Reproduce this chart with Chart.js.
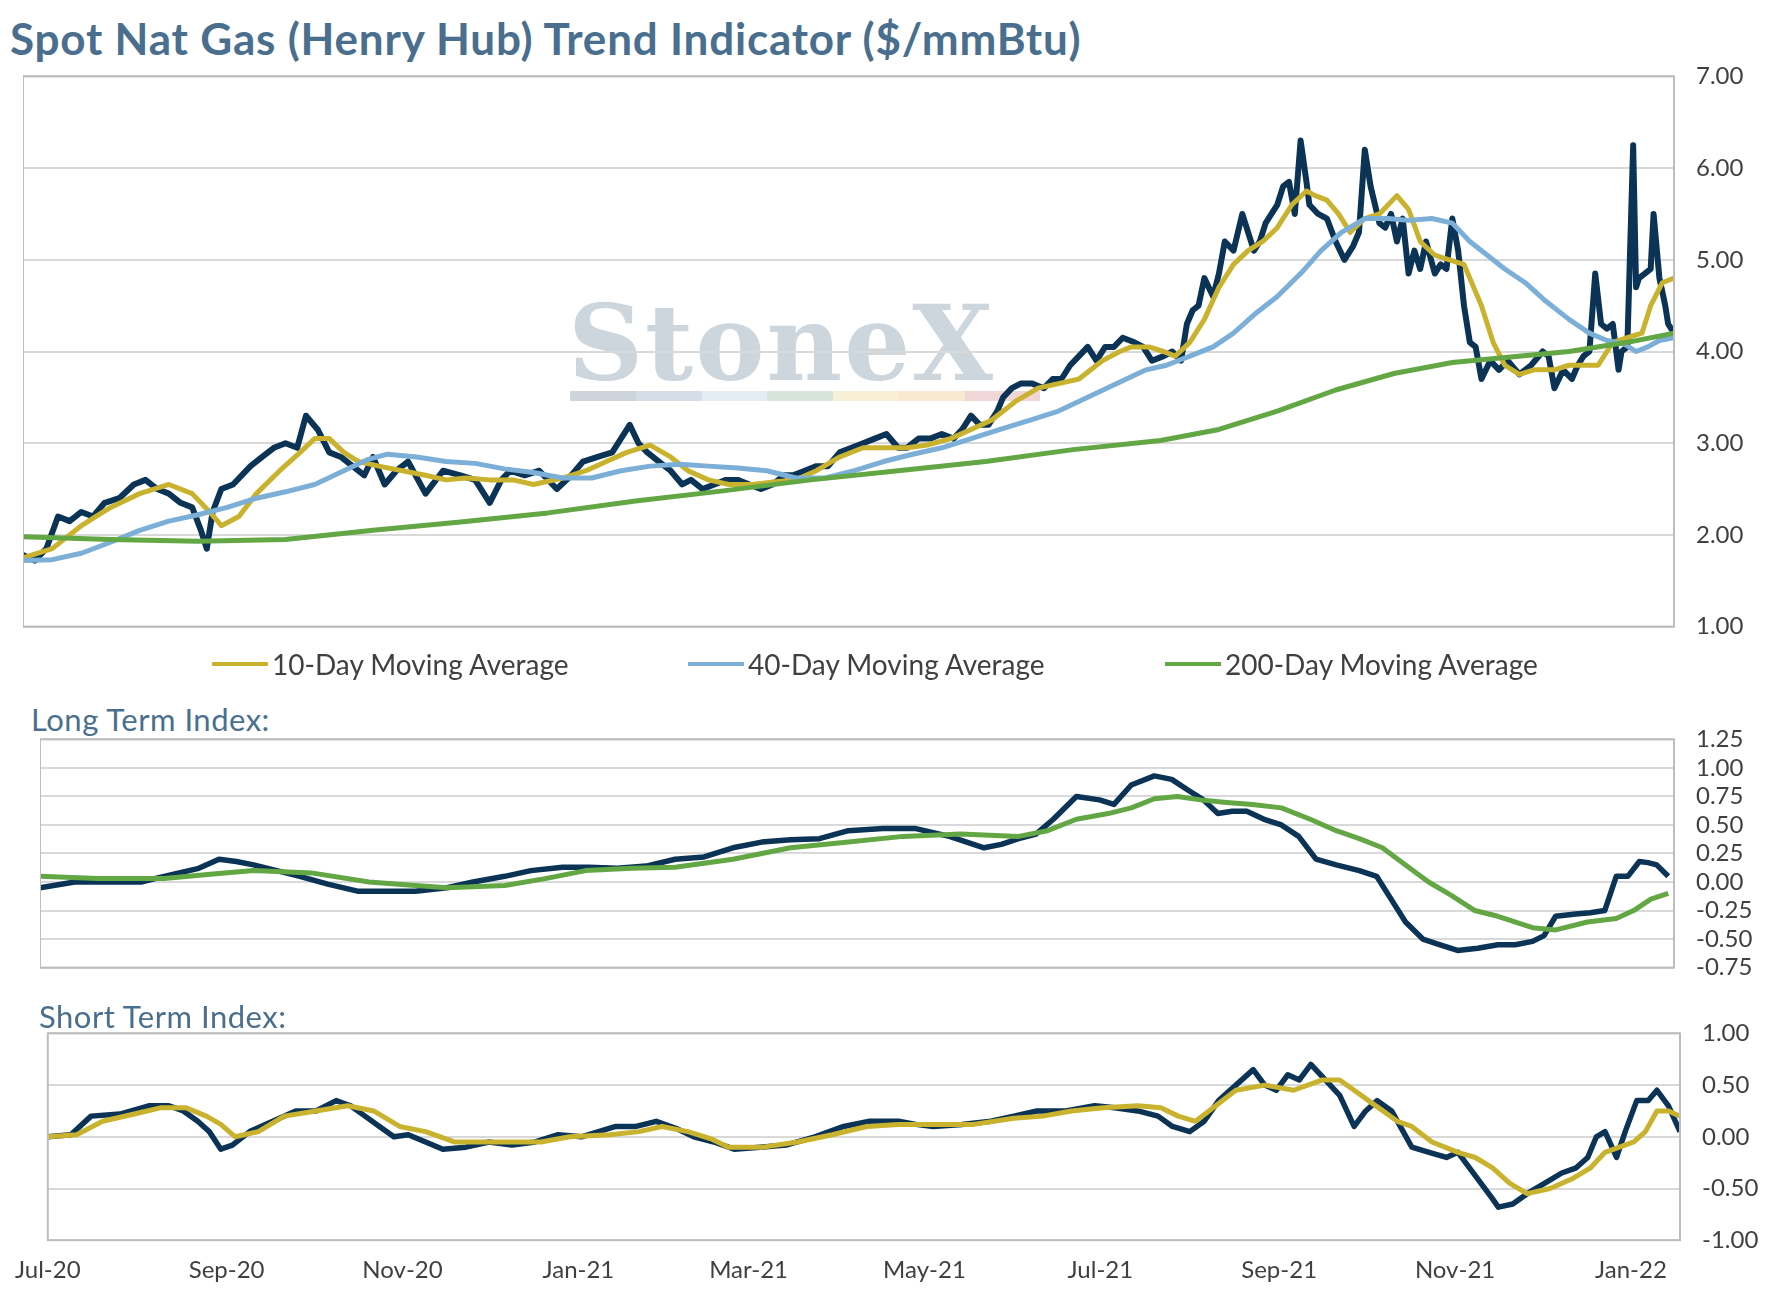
<!DOCTYPE html>
<html>
<head>
<meta charset="utf-8">
<script src="https://cdn.jsdelivr.net/npm/chart.js@4"></script>
<style>
  body { margin: 0; width: 1777px; height: 1295px; background: #fff; position: relative; overflow: hidden; font-family: Lato, "Open Sans", sans-serif; }
  .box { position: absolute; }
  .title { position: absolute; left: 10px; top: 12px; font-size: 44px; font-weight: bold; color: #4a6f8e; letter-spacing: 0.8px; }
  .sub { position: absolute; font-size: 31px; color: #4a6f8e; letter-spacing: 0.5px; }
  .legend { position: absolute; top: 647px; font-size: 28px; color: #404040; display: flex; align-items: center; }
  .legend span.sw { display: inline-block; width: 56px; height: 4px; margin-right: 4px; }
  .wm { position: absolute; left: 568px; top: 282px; font-family: "DejaVu Serif", serif; font-size: 104px; font-weight: bold; color: #cdd5dd; letter-spacing: 2px; }
  .wmbar { position: absolute; left: 570px; top: 391px; width: 470px; height: 10px;
    background: linear-gradient(90deg, #cdd4dc 0 14%, #d5dde6 14% 28%, #e3ecf3 28% 42%, #d6e4da 42% 56%, #f7f0d6 56% 70%, #f9e9d0 70% 84%, #f0d6d6 84% 100%); }
</style>
</head>
<body>
<div class="title">Spot Nat Gas (Henry Hub) Trend Indicator ($/mmBtu)</div>
<div class="wm">StoneX</div>
<div class="wmbar"></div>
<div class="box" style="left:23px;top:40px;width:1748px;height:623px"><canvas id="top"></canvas></div>
<div class="legend" style="left:212px"><span class="sw" style="background:#c9b22e"></span>10-Day Moving Average</div>
<div class="legend" style="left:688px"><span class="sw" style="background:#7bafd8"></span>40-Day Moving Average</div>
<div class="legend" style="left:1165px"><span class="sw" style="background:#62a744"></span>200-Day Moving Average</div>
<div class="sub" style="left:31px;top:700px">Long Term Index:</div>
<div class="box" style="left:40px;top:703px;width:1737px;height:301px"><canvas id="lt"></canvas></div>
<div class="sub" style="left:39px;top:997px">Short Term Index:</div>
<div class="box" style="left:7px;top:997px;width:1770px;height:296px"><canvas id="st"></canvas></div>
<script>
// days counted from 1 Jul 2020
const monthDays = [0, 62, 123, 184, 243, 304, 365, 427, 488, 549];
const monthLabels = ['Jul-20', 'Sep-20', 'Nov-20', 'Jan-21', 'Mar-21', 'May-21', 'Jul-21', 'Sep-21', 'Nov-21', 'Jan-22'];
const X_MAX = 566;

// spot price
const spotDays = [0,4,8,12,16,20,24,28,33,38,42,46,50,54,58,61,63,65,68,72,78,82,86,90,94,97,101,105,109,113,117,120,124,128,132,138,144,150,155,160,164,167,172,177,183,188,192,197,202,205,208,211,214,218,222,226,229,233,237,241,245,249,253,257,261,264,268,272,276,280,284,288,292,296,300,303,307,311,315,319,322,325,328,331,334,336,339,342,346,350,353,356,359,362,365,368,371,374,377,381,384,387,391,394,397,399,401,403,405,408,410,412,415,418,420,422,424,426,428,430,432,434,436,438,440,441,444,447,450,453,456,458,460,462,465,467,469,471,473,475,477,479,481,484,486,488,490,492,494,496,498,500,503,506,509,513,517,521,523,525,528,531,533,535,537,539,541,543,545,547,548,550,552,553,554,556,558,559,561,563,564,566];
const spotVals = [1.78,1.72,1.85,2.2,2.15,2.25,2.2,2.35,2.4,2.55,2.6,2.5,2.45,2.35,2.3,2.05,1.85,2.25,2.5,2.55,2.75,2.85,2.95,3.0,2.95,3.3,3.15,2.9,2.85,2.75,2.65,2.85,2.55,2.7,2.8,2.45,2.7,2.65,2.6,2.35,2.6,2.7,2.65,2.7,2.5,2.65,2.8,2.85,2.9,3.05,3.2,3.0,2.9,2.8,2.7,2.55,2.6,2.5,2.55,2.6,2.6,2.55,2.5,2.55,2.65,2.65,2.7,2.75,2.75,2.9,2.95,3.0,3.05,3.1,2.95,2.95,3.05,3.05,3.1,3.05,3.15,3.3,3.2,3.2,3.35,3.5,3.6,3.65,3.65,3.6,3.7,3.7,3.85,3.95,4.05,3.9,4.05,4.05,4.15,4.1,4.05,3.9,3.95,4.0,3.9,4.3,4.45,4.5,4.8,4.6,4.85,5.2,5.1,5.5,5.3,5.1,5.2,5.4,5.5,5.6,5.8,5.85,5.5,6.3,5.85,5.6,5.5,5.45,5.2,5.0,5.15,5.3,6.2,5.8,5.4,5.35,5.5,5.2,5.45,4.85,5.1,4.9,5.2,4.85,4.95,4.9,5.45,5.1,4.5,4.1,4.05,3.7,3.9,3.8,3.9,3.75,3.85,4.0,3.95,3.6,3.8,3.7,3.85,3.95,4.0,4.85,4.3,4.25,4.3,3.8,4.0,4.05,6.25,4.7,4.8,4.85,4.9,5.5,4.8,4.5,4.3,4.2,4.0];

// moving averages
const ma10Days = [0,10,20,30,40,50,58,64,68,74,80,88,95,100,105,110,115,122,130,138,145,152,160,168,175,185,193,200,207,215,222,228,235,242,250,258,265,272,280,288,295,303,310,318,325,332,340,348,355,362,370,376,380,386,391,395,400,405,410,415,420,425,430,435,440,443,447,451,455,460,465,471,475,479,484,489,494,500,504,508,513,518,525,530,535,540,545,550,555,558,562,566];
const ma10Vals = [1.75,1.85,2.1,2.3,2.45,2.55,2.45,2.25,2.1,2.2,2.45,2.7,2.9,3.05,3.05,2.9,2.8,2.75,2.7,2.65,2.6,2.62,2.6,2.6,2.55,2.62,2.7,2.8,2.9,2.98,2.85,2.7,2.6,2.55,2.55,2.58,2.6,2.7,2.85,2.95,2.95,2.95,2.98,3.05,3.15,3.25,3.45,3.6,3.65,3.7,3.9,4.0,4.05,4.05,4.0,3.95,4.1,4.35,4.7,4.95,5.1,5.2,5.35,5.6,5.75,5.7,5.65,5.5,5.3,5.45,5.5,5.7,5.55,5.2,5.05,5.0,4.95,4.5,4.1,3.85,3.75,3.8,3.8,3.85,3.85,3.85,4.1,4.15,4.2,4.5,4.75,4.8];
const ma40Days = [0,10,20,30,40,50,60,70,80,90,100,110,118,125,135,145,155,165,175,185,195,205,215,225,235,245,255,265,275,285,295,305,315,325,335,345,355,365,375,385,392,400,408,415,422,430,438,445,452,460,468,475,483,490,496,502,508,515,522,530,537,543,549,553,557,561,566];
const ma40Vals = [1.72,1.73,1.8,1.92,2.05,2.15,2.22,2.3,2.4,2.47,2.55,2.7,2.82,2.88,2.85,2.8,2.78,2.72,2.68,2.62,2.62,2.7,2.75,2.77,2.75,2.73,2.7,2.62,2.62,2.7,2.8,2.88,2.95,3.05,3.15,3.25,3.35,3.5,3.65,3.8,3.85,3.95,4.05,4.2,4.4,4.6,4.85,5.1,5.3,5.45,5.45,5.43,5.45,5.4,5.2,5.05,4.9,4.75,4.55,4.35,4.2,4.12,4.08,4.0,4.05,4.12,4.15];
const ma200Days = [0,30,60,90,120,150,180,210,240,270,300,330,360,390,410,430,450,470,490,510,530,550,566];
const ma200Vals = [1.98,1.95,1.93,1.95,2.05,2.14,2.24,2.37,2.48,2.6,2.7,2.8,2.93,3.03,3.15,3.35,3.58,3.76,3.88,3.94,4.0,4.1,4.2];

// long term index
const ltDarkDays = [0,12,23,35,43,55,62,68,74,82,90,100,110,120,130,141,150,161,170,181,190,200,210,220,230,240,250,260,270,280,292,303,315,327,333,339,345,351,359,367,372,378,386,392,398,403,408,413,418,424,430,436,442,449,457,463,468,473,479,485,491,498,505,511,517,521,525,532,537,542,546,550,554,557,560,564];
const ltDarkVals = [-0.05,0.0,0.0,0.0,0.05,0.12,0.2,0.18,0.15,0.1,0.05,-0.02,-0.08,-0.08,-0.08,-0.05,0.0,0.05,0.1,0.13,0.13,0.12,0.14,0.2,0.22,0.3,0.35,0.37,0.38,0.45,0.47,0.47,0.4,0.3,0.33,0.38,0.42,0.55,0.75,0.72,0.68,0.85,0.93,0.9,0.8,0.72,0.6,0.62,0.62,0.55,0.5,0.4,0.2,0.15,0.1,0.05,-0.15,-0.35,-0.5,-0.55,-0.6,-0.58,-0.55,-0.55,-0.52,-0.47,-0.3,-0.28,-0.27,-0.25,0.05,0.05,0.18,0.17,0.15,0.05];
const ltGreenDays = [0,20,43,60,74,94,114,130,141,161,175,189,205,220,240,260,280,299,319,339,349,359,370,378,386,394,402,410,420,430,440,449,457,465,473,481,489,497,505,517,525,536,546,552,558,564];
const ltGreenVals = [0.05,0.03,0.03,0.07,0.1,0.08,0.0,-0.03,-0.05,-0.03,0.03,0.1,0.12,0.13,0.2,0.3,0.35,0.4,0.42,0.4,0.45,0.55,0.6,0.65,0.73,0.75,0.72,0.7,0.68,0.65,0.55,0.45,0.38,0.3,0.15,0.0,-0.12,-0.25,-0.3,-0.4,-0.42,-0.35,-0.32,-0.25,-0.15,-0.1];

// short term index
const stDarkDays = [0,8,15,25,35,42,47,52,56,60,64,70,78,86,93,100,105,110,115,120,125,131,137,145,153,161,169,177,185,191,197,204,211,218,224,231,238,247,256,266,276,285,295,301,307,317,327,335,343,353,363,370,378,385,390,396,401,406,412,418,422,426,430,434,438,443,448,453,457,461,466,473,479,485,489,493,497,501,503,508,513,519,525,530,534,537,540,544,547,551,555,558,562,566];
const stDarkVals = [0.0,0.02,0.2,0.22,0.3,0.3,0.25,0.15,0.05,-0.12,-0.08,0.05,0.15,0.25,0.25,0.35,0.3,0.2,0.1,0.0,0.02,-0.05,-0.12,-0.1,-0.05,-0.08,-0.05,0.02,0.0,0.05,0.1,0.1,0.15,0.08,0.0,-0.05,-0.12,-0.1,-0.08,0.0,0.1,0.15,0.15,0.12,0.1,0.12,0.15,0.2,0.25,0.25,0.3,0.28,0.25,0.2,0.1,0.05,0.15,0.35,0.5,0.65,0.5,0.45,0.6,0.55,0.7,0.55,0.4,0.1,0.25,0.35,0.25,-0.1,-0.15,-0.2,-0.15,-0.3,-0.45,-0.6,-0.68,-0.65,-0.55,-0.45,-0.35,-0.3,-0.2,0.0,0.05,-0.2,0.05,0.35,0.35,0.45,0.3,0.05];
const stYellowDays = [0,10,19,30,39,48,55,60,65,73,82,93,104,113,122,131,141,151,161,171,181,195,205,213,222,230,236,248,260,272,284,295,307,321,335,345,355,366,378,386,392,398,405,412,422,432,442,448,453,458,463,468,473,480,489,495,501,507,513,521,529,535,540,545,550,554,558,562,566];
const stYellowVals = [0.0,0.02,0.15,0.22,0.28,0.28,0.2,0.12,0.0,0.05,0.2,0.25,0.3,0.25,0.1,0.05,-0.05,-0.05,-0.05,-0.05,0.0,0.02,0.05,0.1,0.05,-0.02,-0.1,-0.1,-0.05,0.02,0.1,0.12,0.12,0.12,0.18,0.2,0.25,0.28,0.3,0.28,0.2,0.15,0.3,0.45,0.5,0.45,0.55,0.55,0.45,0.35,0.25,0.15,0.1,-0.05,-0.15,-0.2,-0.3,-0.45,-0.55,-0.5,-0.4,-0.3,-0.15,-0.1,-0.05,0.05,0.25,0.25,0.2];

const pts = (d, v) => d.map((x, i) => ({ x: x, y: v[i] }));

const frame = {
  id: 'frame',
  afterDraw(chart) {
    const a = chart.chartArea, c = chart.ctx;
    c.save();
    c.strokeStyle = '#bdbdbd';
    c.lineWidth = 2;
    c.strokeRect(a.left, a.top, a.right - a.left, a.bottom - a.top);
    c.restore();
  }
};

function line(data, color, width) {
  return { data: data, borderColor: color, borderWidth: width, pointRadius: 0, tension: 0, fill: false, borderJoinStyle: 'round' };
}

function makeChart(id, datasets, yMin, yMax, yStep, yWidth, showX, padTop) {
  return new Chart(document.getElementById(id), {
    type: 'line',
    data: { datasets: datasets },
    plugins: [frame],
    options: {
      responsive: true, maintainAspectRatio: false, animation: false,
      layout: { padding: { top: padTop, bottom: showX ? 0 : 12, left: 0, right: 0 } },
      plugins: { legend: { display: false }, tooltip: { enabled: false } },
      scales: {
        x: {
          type: 'linear', min: 0, max: X_MAX, display: showX,
          afterBuildTicks: ax => { ax.ticks = monthDays.map(v => ({ value: v })); },
          grid: { display: false },
          border: { display: false },
          ticks: { autoSkip: false, maxRotation: 0, color: '#404040', font: { size: 24, family: 'Lato' }, padding: 8,
                   callback: v => monthLabels[monthDays.indexOf(v)] }
        },
        y: {
          position: 'right', min: yMin, max: yMax,
          afterFit: ax => { ax.width = yWidth; },
          grid: { color: '#d9d9d9', lineWidth: 2, drawTicks: false },
          border: { display: false },
          ticks: { stepSize: yStep, color: '#404040', font: { size: 24, family: 'Lato' }, padding: 22,
                   callback: v => v.toFixed(2) }
        }
      }
    }
  });
}

makeChart('top', [
  line(pts(ma200Days, ma200Vals), '#62a744', 5),
  line(pts(ma40Days, ma40Vals), '#7bafd8', 5),
  line(pts(ma10Days, ma10Vals), '#c9b22e', 5),
  line(pts(spotDays, spotVals), '#0b3356', 6)
], 1, 7, 1, 97, false, 10);

makeChart('lt', [
  line(pts(ltGreenDays, ltGreenVals), '#62a744', 5),
  line(pts(ltDarkDays, ltDarkVals), '#0b3356', 5.5)
], -0.75, 1.25, 0.25, 103, false, 12);

makeChart('st', [
  line(pts(stYellowDays, stYellowVals), '#c9b22e', 5),
  line(pts(stDarkDays, stDarkVals), '#0b3356', 5.5)
], -1, 1, 0.5, 97, true, 12);
</script>
</body>
</html>
